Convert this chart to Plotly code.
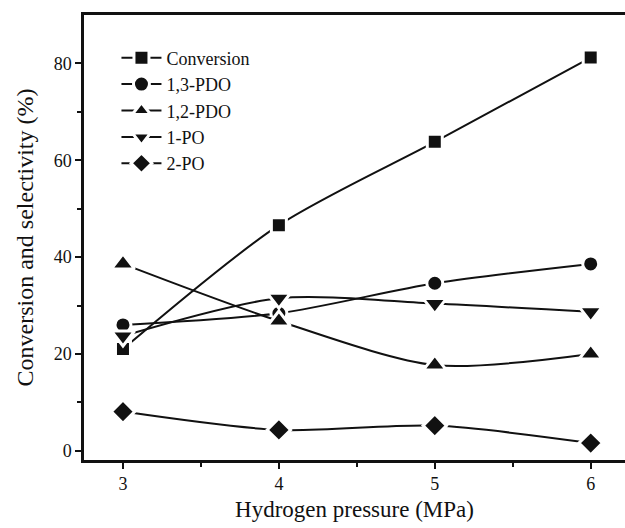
import plotly.graph_objects as go

pressure = [3, 4, 5, 6]
conversion = [21.0, 46.6, 63.8, 81.2]
pdo13 = [26.0, 28.4, 34.6, 38.6]
pdo12 = [38.6, 26.8, 17.7, 20.0]
po1 = [23.7, 31.5, 30.4, 28.7]
po2 = [8.1, 4.3, 5.2, 1.6]

series = [
    ("Conversion", conversion, "square", 12),
    ("1,3-PDO", pdo13, "circle", 13),
    ("1,2-PDO", pdo12, "triangle-up", 17),
    ("1-PO", po1, "triangle-down", 17),
    ("2-PO", po2, "diamond", 15),
]

fig = go.Figure()
for name, vals, sym, sz in series:
    fig.add_trace(go.Scatter(
        x=pressure, y=vals, name=name, mode="lines+markers",
        line=dict(color="#111111", width=2, shape="spline", smoothing=0.8),
        marker=dict(symbol=sym, size=sz + 3, color="#111111",
                    line=dict(color="white", width=3)),
    ))

font = "Liberation Serif, Times New Roman, serif"
fig.update_layout(
    width=625, height=528,
    margin=dict(l=84, r=0, t=15, b=68),
    paper_bgcolor="white", plot_bgcolor="white",
    font=dict(family=font, size=18, color="#111111"),
    showlegend=True,
    legend=dict(x=0.06, y=0.945, xanchor="left", yanchor="top",
                bgcolor="rgba(0,0,0,0)", font=dict(size=18, family=font),
                itemwidth=40, tracegroupgap=0),
    xaxis=dict(
        range=[2.75, 6.22], tickvals=pressure, ticks="outside", ticklen=6,
        tickwidth=2, tickcolor="#111111", showline=True, linewidth=2.5,
        linecolor="#111111", mirror=True, showgrid=False, zeroline=False,
        minor=dict(tickvals=[3.5, 4.5, 5.5], ticks="outside", ticklen=4,
                   tickwidth=2, tickcolor="#111111"),
        title=dict(text="Hydrogen pressure (MPa)", font=dict(size=23, family=font),
                   standoff=8),
        tickfont=dict(size=18, family=font),
    ),
    yaxis=dict(
        range=[-1.9, 90], tickvals=[0, 20, 40, 60, 80], ticks="outside",
        ticklen=6, tickwidth=2, tickcolor="#111111", showline=True,
        linewidth=2.5, linecolor="#111111", showgrid=False, zeroline=False,
        minor=dict(tickvals=[10, 30, 50, 70], ticks="outside", ticklen=4,
                   tickwidth=2, tickcolor="#111111"),
        title=dict(text="Conversion and selectivity (%)",
                   font=dict(size=24, family=font), standoff=14),
        tickfont=dict(size=18, family=font),
    ),
)

fig.write_html("out.html")
